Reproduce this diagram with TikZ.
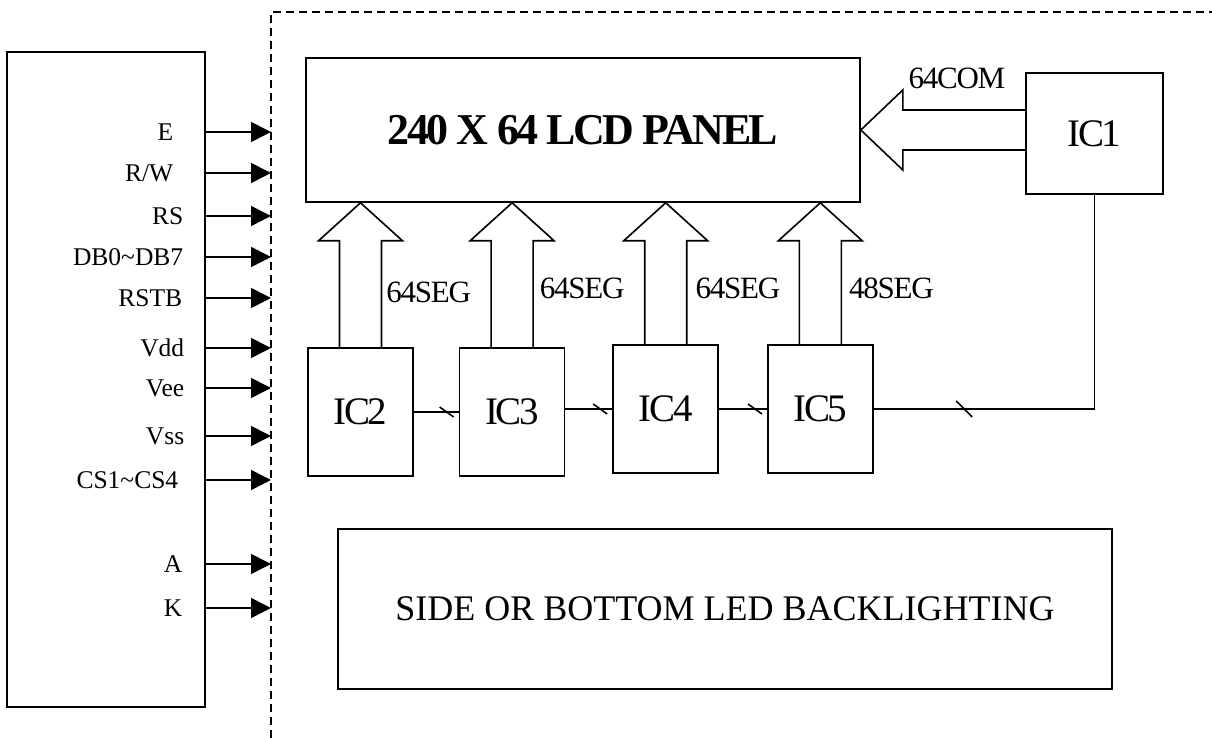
\documentclass[tikz,border=0pt]{standalone}
\usepackage{fontspec}
\setmainfont{Liberation Serif}
\newfontfamily\chatchu[LetterSpace=-6]{Liberation Serif}
\newfontfamily\chatvua[LetterSpace=-4]{Liberation Serif}
\usepackage{tikz}
\usetikzlibrary{calc, positioning, arrows.meta}

% mũi tên bus rỗng đi từ IC lên tấm LCD
\newcommand{\segbus}[1]{%
    \draw ($(#1.north)+(-21,0)$) -- ($(#1.north |- lcd.south)+(-21,-38)$) -- ++(-21,0)
        -- (#1.north |- lcd.south) -- ++(42,-38) -- ++(-21,0) -- ($(#1.north)+(21,0)$);}
% vạch chéo đánh dấu bus
\newcommand{\busmark}[1]{\draw (#1)+(-7,5) -- +(7,-5);}

\begin{document}
\begin{tikzpicture}[x=1pt, y=1pt, line width=1.6pt,
    >={Triangle[length=20pt, width=20pt]},
    icbox/.style={draw, minimum width=105pt, minimum height=128pt, inner sep=0pt,
        font=\chatchu\fontsize{39}{44}\selectfont},
    pinlabel/.style={anchor=east, inner sep=0pt, text height=17pt, text depth=0pt,
        font=\fontsize{25.5}{30}\selectfont},
    buslabel/.style={anchor=west, inner sep=0pt, text height=21pt, text depth=0pt,
        font=\chatvua\fontsize{31}{36}\selectfont}]
    \useasboundingbox (0,0) rectangle (1212,738);

    % Khối điều khiển bên trái
    \node[draw, minimum width=198pt, minimum height=655pt, inner sep=0pt] (host) at (106,358.5) {};

    % Biên module (nét đứt)
    \coordinate (vien) at (271,726);
    \draw[dash pattern=on 8pt off 5pt] (271,0) -- (vien) -- (1212,726);

    % Các chân tín hiệu
    \foreach \y/\x/\ten [count=\i] in {606/174/{E}, 565/174/{R/W}, 522/184/{RS},
            481/184/{DB0\textasciitilde DB7}, 440/183/{RSTB}, 390/185/{Vdd},
            350/185/{Vee}, 302/185/{Vss}, 258/179/{CS1\textasciitilde CS4},
            174/183/{A}, 130/183/{K}} {
        \node[pinlabel] (p\i) at (\x,\y) {\ten};
        \draw[->] (host.east |- p\i.east) -- (p\i.east -| vien);
    }

    % Tấm LCD
    \node[draw, minimum width=554pt, minimum height=144pt,
        font=\chatchu\bfseries\fontsize{44}{48}\selectfont] (lcd) at (583,608) {240 X 64 LCD PANEL};

    % Các IC
    \node[icbox, minimum width=137pt, minimum height=121pt] (ic1) at (1094.5,604.5) {IC1};
    \node[icbox] (ic2) at (360.5,326) {IC2};
    \node[icbox, right=45pt of ic2] (ic3) {IC3};
    \node[icbox, right=47pt of ic3, yshift=3pt] (ic4) {IC4};
    \node[icbox, right=48pt of ic4] (ic5) {IC5};

    % Bus 64COM
    \draw (lcd.east) -- ++(42,40) -- ++(0,-20) -- ($(lcd.east -| ic1.west)+(0,20)$);
    \draw ($(lcd.east -| ic1.west)+(0,-20)$) -- ($(lcd.east)+(42,-20)$) -- ++(0,-20) -- (lcd.east);
    \node[buslabel] (com) at ($(lcd.east)+(47,52)$) {64COM};

    % Bus SEG
    \segbus{ic2}
    \segbus{ic3}
    \segbus{ic4}
    \segbus{ic5}
    \node[buslabel] (seg2) at ($(ic2.north)+(25,55)$) {64SEG};
    \node[buslabel] (seg3) at ($(ic3.north)+(27,59)$) {64SEG};
    \node[buslabel] (seg4) at ($(ic4.north)+(29,56)$) {64SEG};
    \node[buslabel] (seg5) at ($(ic5.north)+(28,56)$) {48SEG};

    % Nối các IC
    \draw (ic2) -- (ic3) coordinate[pos=.73] (g23);
    \draw (ic3.east |- ic4) -- (ic4.west) coordinate[pos=.74] (g34);
    \draw (ic4) -- (ic5) coordinate[pos=.75] (g45);
    \draw (ic5.east) -- (ic5.east -| ic1.south) coordinate[pos=.41] (g51) -- (ic1.south);
    \busmark{g23}
    \busmark{g34}
    \busmark{g45}
    \draw (g51)+(-8,8) -- +(8,-8);

    % Đèn nền
    \node[draw, minimum width=774pt, minimum height=160pt,
        font=\fontsize{36}{40}\selectfont] (led) at (725,129) {SIDE OR BOTTOM LED BACKLIGHTING};
\end{tikzpicture}
\end{document}
